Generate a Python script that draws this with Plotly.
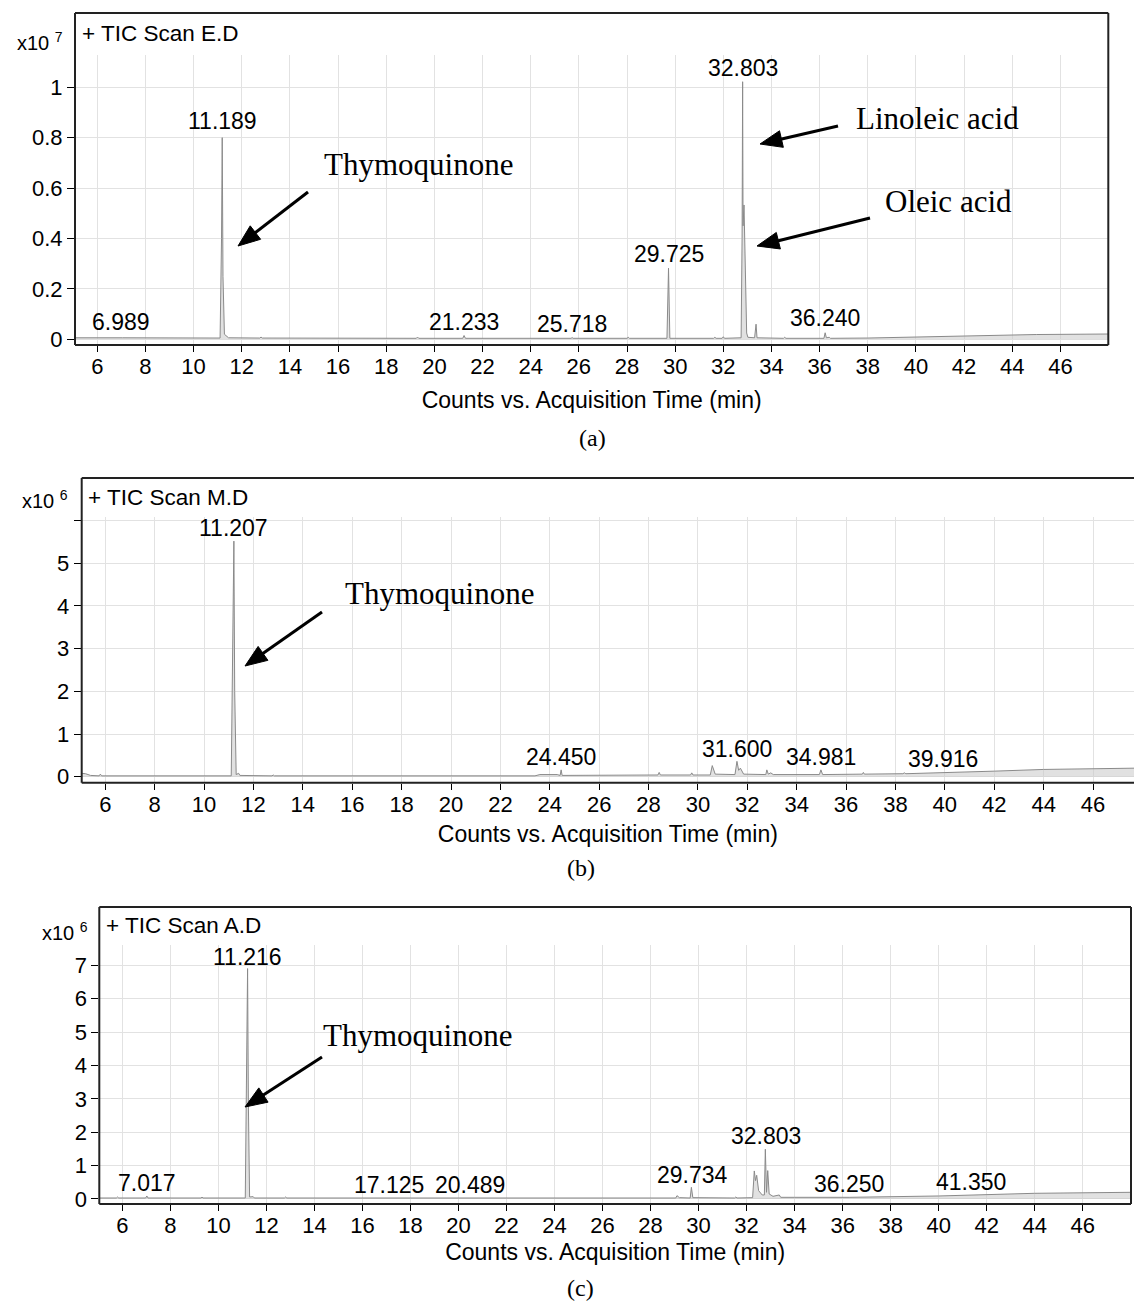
import math
import plotly.graph_objects as go

W, H = 1134, 1301          # reference picture size (layout positions are expressed in these pixels)
FIG_H = 1309               # rendered figure height (capture is slightly compressed vertically)

# ---------------- data ----------------
# Panel (a)  TIC Scan E.D  (counts x10^7)
a_time = [5.07, 5.80, 5.85, 5.90, 6.95, 7.00, 7.05, 11.10, 11.16, 11.189, 11.22, 11.28, 11.40, 11.45,
          12.75, 12.80, 12.85, 19.25, 19.30, 19.35, 21.18, 21.233, 21.29, 25.68, 25.72, 25.76,
          28.00, 28.05, 28.10, 29.66, 29.725, 29.78, 31.60, 31.65, 31.70, 31.95, 32.00, 32.05,
          32.74, 32.78, 32.803, 32.82, 32.86, 32.90, 32.94, 32.97, 33.02, 33.30, 33.36, 33.40,
          34.50, 34.55, 34.60, 36.18, 36.23, 36.28, 36.40, 36.45, 38.00, 40.00, 41.00, 43.00,
          45.00, 48.00]
a_count = [0.006, 0.006, 0.008, 0.006, 0.006, 0.009, 0.006, 0.005, 0.40, 0.80, 0.25, 0.02, 0.012, 0.006,
           0.005, 0.009, 0.005, 0.004, 0.009, 0.004, 0.004, 0.015, 0.004, 0.004, 0.007, 0.004,
           0.004, 0.008, 0.004, 0.004, 0.282, 0.004, 0.004, 0.008, 0.004, 0.004, 0.010, 0.004,
           0.006, 0.40, 1.022, 0.45, 0.533, 0.30, 0.06, 0.025, 0.008, 0.006, 0.06, 0.006,
           0.004, 0.008, 0.004, 0.004, 0.026, 0.006, 0.008, 0.004, 0.005, 0.009, 0.013, 0.017,
           0.019, 0.021]
a_peak_rt = [6.989, 11.189, 21.233, 25.718, 29.725, 32.803, 36.240]
a_peak_lbl = ["6.989", "11.189", "21.233", "25.718", "29.725", "32.803", "36.240"]
a_peak_lbl_y = [0.067, 0.866, 0.067, 0.061, 0.338, 1.077, 0.085]
a_yticks = [0, 0.2, 0.4, 0.6, 0.8, 1]
a_yminor = []

# Panel (b)  TIC Scan M.D  (counts x10^6)
b_time = [5.04, 5.20, 5.40, 5.75, 5.80, 5.85, 11.10, 11.16, 11.207, 11.24, 11.30, 11.40, 11.45,
          12.75, 12.80, 12.85, 23.40, 23.60, 24.30, 24.42, 24.46, 24.50, 26.00, 27.00,
          28.38, 28.43, 28.48, 29.70, 29.75, 29.80, 30.50, 30.58, 30.70, 31.50, 31.58, 31.65,
          31.72, 31.85, 32.75, 32.79, 32.85, 32.95, 33.05, 34.92, 34.98, 35.05, 36.00, 36.66,
          36.70, 36.74, 38.30, 38.36, 38.42, 40.00, 42.00, 44.00, 46.00, 47.70]
b_count = [0.08, 0.07, 0.03, 0.02, 0.06, 0.02, 0.02, 2.5, 5.52, 2.0, 0.05, 0.08, 0.03,
           0.02, 0.04, 0.02, 0.02, 0.05, 0.05, 0.03, 0.16, 0.03, 0.03, 0.04,
           0.04, 0.10, 0.04, 0.04, 0.09, 0.04, 0.04, 0.26, 0.06, 0.05, 0.36, 0.15,
           0.20, 0.06, 0.05, 0.16, 0.06, 0.09, 0.05, 0.05, 0.16, 0.05, 0.06, 0.06,
           0.10, 0.06, 0.07, 0.09, 0.07, 0.09, 0.13, 0.17, 0.19, 0.20]
b_peak_rt = [11.207, 24.450, 31.600, 34.981, 39.916]
b_peak_lbl = ["11.207", "24.450", "31.600", "34.981", "39.916"]
b_peak_lbl_y = [5.83, 0.47, 0.64, 0.47, 0.41]
b_yticks = [0, 1, 2, 3, 4, 5]
b_yminor = [6]          # unlabelled top tick

# Panel (c)  TIC Scan A.D  (counts x10^6)
c_time = [5.04, 5.75, 5.80, 5.85, 6.97, 7.02, 7.07, 9.28, 9.32, 9.36, 11.12, 11.17, 11.216, 11.25,
          11.30, 11.45, 11.50, 12.75, 12.80, 12.85, 14.15, 14.20, 14.25, 17.10, 17.125, 17.16,
          20.46, 20.489, 20.52, 29.05, 29.10, 29.20, 29.65, 29.70, 29.76, 31.50, 31.55, 31.60,
          32.25, 32.32, 32.37, 32.42, 32.50, 32.65, 32.74, 32.78, 32.83, 32.88, 32.94, 33.10,
          33.36, 33.42, 34.00, 36.00, 36.20, 36.30, 40.00, 42.00, 44.00, 48.00]
c_count = [0.03, 0.03, 0.06, 0.03, 0.03, 0.09, 0.03, 0.03, 0.06, 0.03, 0.03, 3.2, 6.9, 2.8,
           0.06, 0.07, 0.03, 0.03, 0.06, 0.03, 0.03, 0.05, 0.03, 0.03, 0.05, 0.03,
           0.03, 0.05, 0.03, 0.03, 0.10, 0.04, 0.03, 0.35, 0.04, 0.03, 0.06, 0.03,
           0.04, 0.84, 0.55, 0.71, 0.25, 0.12, 0.12, 1.49, 0.20, 0.85, 0.15, 0.08,
           0.12, 0.05, 0.05, 0.04, 0.06, 0.05, 0.09, 0.14, 0.17, 0.20]
c_peak_rt = [7.017, 11.216, 17.125, 20.489, 29.734, 32.803, 36.250, 41.350]
c_peak_lbl = ["7.017", "11.216", "17.125", "20.489", "29.734", "32.803", "36.250", "41.350"]
c_peak_lbl_y = [0.49, 7.25, 0.42, 0.42, 0.72, 1.89, 0.45, 0.50]
c_yticks = [0, 1, 2, 3, 4, 5, 6, 7]
c_yminor = []

x_ticks = list(range(6, 47, 2))
x_title = "Counts vs. Acquisition Time (min)"

# ---------------- layout helpers ----------------
def px(x):
    return x / W

def py(y):
    return 1 - y / H

SANS = "Liberation Sans, Arial, sans-serif"
SERIF = "Liberation Serif, Times New Roman, serif"
GRID = "#e2e2e2"
LINE = "#8a8a8a"
FILL = "rgba(200,200,200,0.55)"

panels = [
    dict(time=a_time, count=a_count, rt=a_peak_rt, lbl=a_peak_lbl, lbly=a_peak_lbl_y,
         yt=a_yticks, ym=a_yminor, L=75, R=1108.3, T=55, B=345, FT=13,
         xr=[5.074, 47.99], yr=[-0.0226, 1.128], right_border=True, standoff=13,
         tic="+ TIC Scan E.D", exp="7", tic_x=80, tic_y=33, exp_x=65, exp_y=42,
         cap="(a)", cap_x=592, cap_y=438),
    dict(time=b_time, count=b_count, rt=b_peak_rt, lbl=b_peak_lbl, lbly=b_peak_lbl_y,
         yt=b_yticks, ym=b_yminor, L=81.7, R=1134, T=517, B=782.7, FT=478,
         xr=[5.044, 47.66], yr=[-0.1406, 6.085], right_border=False, standoff=9,
         tic="+ TIC Scan M.D", exp="6", tic_x=86, tic_y=497, exp_x=70, exp_y=500,
         cap="(b)", cap_x=581, cap_y=868),
    dict(time=c_time, count=c_count, rt=c_peak_rt, lbl=c_peak_lbl, lbly=c_peak_lbl_y,
         yt=c_yticks, ym=c_yminor, L=99.3, R=1131, T=945, B=1204, FT=907,
         xr=[5.04, 48.01], yr=[-0.15, 7.605], right_border=True, standoff=6,
         tic="+ TIC Scan A.D", exp="6", tic_x=104, tic_y=926, exp_x=90, exp_y=931,
         cap="(c)", cap_x=580, cap_y=1288),
]

fig = go.Figure()
shapes = []
annotations = []

for i, p in enumerate(panels, start=1):
    xa = "x" if i == 1 else f"x{i}"
    ya = "y" if i == 1 else f"y{i}"
    fig.add_trace(go.Scatter(
        x=p["time"], y=p["count"], mode="lines", xaxis=xa, yaxis=ya,
        line=dict(color=LINE, width=1), fill="tozeroy", fillcolor=FILL,
        showlegend=False, hoverinfo="x+y"))

    axis_common = dict(showline=False, zeroline=False, showgrid=True, gridcolor=GRID, gridwidth=1,
                       ticks="outside", tickcolor="black", tickwidth=1,
                       tickfont=dict(family=SANS, size=22, color="black"))
    xkey = "xaxis" if i == 1 else f"xaxis{i}"
    ykey = "yaxis" if i == 1 else f"yaxis{i}"
    fig.layout[xkey] = dict(domain=[px(p["L"]), min(1.0, px(p["R"]))], range=p["xr"],
                            anchor=ya, tickvals=x_ticks, ticklen=6, ticklabelstandoff=-4,
                            title=dict(text=x_title, standoff=p["standoff"],
                                       font=dict(family=SANS, size=23, color="black")),
                            **axis_common)
    ydict = dict(domain=[py(p["B"]), py(p["T"])], range=p["yr"], anchor=xa,
                 tickvals=p["yt"], ticklen=7, **axis_common)
    if p["ym"]:
        ydict["minor"] = dict(tickmode="array", tickvals=p["ym"], ticks="outside", ticklen=7,
                              tickcolor="black", tickwidth=1, showgrid=True, gridcolor=GRID)
    fig.layout[ykey] = ydict

    # frame
    frame = dict(type="line", xref="paper", yref="paper", line=dict(color="#222222", width=2))
    R = min(p["R"], W - 0.5)
    Rx = R if p["right_border"] else W + 2
    shapes.append(dict(frame, x0=px(p["L"]), x1=px(p["L"]), y0=py(p["B"]), y1=py(p["FT"])))
    shapes.append(dict(frame, x0=px(p["L"]), x1=px(Rx), y0=py(p["FT"]), y1=py(p["FT"])))
    shapes.append(dict(frame, x0=px(p["L"]), x1=px(Rx), y0=py(p["B"]), y1=py(p["B"])))
    if p["right_border"]:
        shapes.append(dict(frame, x0=px(R), x1=px(R), y0=py(p["B"]), y1=py(p["FT"])))

    annotations.append(dict(xref="paper", yref="paper", x=px(p["tic_x"]), y=py(p["tic_y"]),
                            xanchor="left", yanchor="middle", showarrow=False, text=p["tic"],
                            font=dict(family=SANS, size=22.5, color="black")))
    annotations.append(dict(xref="paper", yref="paper", x=px(p["exp_x"]), y=py(p["exp_y"]),
                            xanchor="right", yanchor="middle", showarrow=False,
                            text=f"x10 <sup>{p['exp']}</sup>",
                            font=dict(family=SANS, size=20, color="black")))
    annotations.append(dict(xref="paper", yref="paper", x=px(p["cap_x"]), y=py(p["cap_y"]),
                            xanchor="center", yanchor="middle", showarrow=False, text=p["cap"],
                            font=dict(family=SERIF, size=24, color="black")))
    for rt, lb, ly in zip(p["rt"], p["lbl"], p["lbly"]):
        annotations.append(dict(xref=xa, yref=ya, x=rt, y=ly, xanchor="center", yanchor="middle",
                                showarrow=False, text=lb,
                                font=dict(family=SANS, size=23, color="black")))

# compound names (Times)
compound_names = ["Thymoquinone", "Linoleic acid", "Oleic acid", "Thymoquinone", "Thymoquinone"]
name_pos = [(418, 165), (937, 118), (948, 201), (439, 593), (417, 1035)]
for name, (nx, ny) in zip(compound_names, name_pos):
    annotations.append(dict(xref="paper", yref="paper", x=px(nx), y=py(ny), xanchor="center",
                            yanchor="middle", showarrow=False, text=name,
                            font=dict(family=SERIF, size=31, color="black")))

# arrows drawn as shapes: (head_x, head_y, tail_x, tail_y) in pixels
arrows = [(238, 246, 308, 192), (760, 144, 838, 126), (757, 246, 870, 218),
          (245, 666, 322, 612), (245, 1107, 322, 1057)]
HEAD_LEN, HEAD_HALF = 22, 8.5
for hx, hy, tx, ty in arrows:
    dx, dy = tx - hx, ty - hy
    d = math.hypot(dx, dy)
    ux, uy = dx / d, dy / d
    bx, by = hx + ux * HEAD_LEN, hy + uy * HEAD_LEN
    nx_, ny_ = -uy, ux
    shapes.append(dict(type="line", xref="paper", yref="paper",
                       x0=px(tx), y0=py(ty), x1=px(bx - ux * 2), y1=py(by - uy * 2),
                       line=dict(color="black", width=3)))
    path = (f"M {px(hx)} {py(hy)} L {px(bx + nx_ * HEAD_HALF)} {py(by + ny_ * HEAD_HALF)} "
            f"L {px(bx - nx_ * HEAD_HALF)} {py(by - ny_ * HEAD_HALF)} Z")
    shapes.append(dict(type="path", xref="paper", yref="paper", path=path,
                       fillcolor="black", line=dict(color="black", width=1)))

fig.update_layout(width=W, height=FIG_H, margin=dict(l=0, r=0, t=0, b=0),
                  paper_bgcolor="white", plot_bgcolor="white",
                  shapes=shapes, annotations=annotations, showlegend=False)

page_js = (
    "document.documentElement.style.margin='0';document.documentElement.style.overflow='hidden';"
    "document.body.style.margin='0';document.body.style.padding='0';document.body.style.overflow='hidden';"
)

fig.write_html("out.html", config={"displayModeBar": False}, post_script=page_js)
